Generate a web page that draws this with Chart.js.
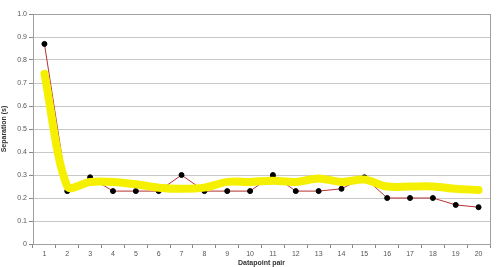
<!DOCTYPE html>
<html>
<head>
<meta charset="utf-8">
<script src="https://cdn.jsdelivr.net/npm/chart.js@4"></script>
<style>
  html, body { margin: 0; padding: 0; background: #fff; }
  #wrap { width: 500px; height: 267px; }
</style>
</head>
<body>
<div id="wrap"><canvas id="grafico"></canvas></div>
<script>
const pares = ["1","2","3","4","5","6","7","8","9","10","11","12","13","14","15","16","17","18","19","20"];
const separacao = [0.87, 0.23, 0.29, 0.23, 0.23, 0.23, 0.30, 0.23, 0.23, 0.23, 0.30, 0.23, 0.23, 0.24, 0.29, 0.20, 0.20, 0.20, 0.17, 0.16];
// linha amarela desenhada a mao por cima
const destaque = [0.74, 0.25, 0.27, 0.27, 0.26, 0.245, 0.24, 0.245, 0.27, 0.27, 0.275, 0.27, 0.285, 0.27, 0.28, 0.25, 0.25, 0.25, 0.24, 0.235];
const ticksY = [0, 0.1, 0.2, 0.3, 0.4, 0.5, 0.6, 0.7, 0.8, 0.9, 1];

const borda = {
    id: "borda",
    afterDraw(chart) {
        const a = chart.chartArea;
        const ctx = chart.ctx;
        ctx.save();
        ctx.strokeStyle = "#a0a0a0";
        ctx.lineWidth = 1;
        ctx.strokeRect(a.left + 0.5, a.top + 0.5, a.right - a.left, a.bottom - a.top);
        ctx.restore();
    }
};

new Chart(document.getElementById("grafico"), {
    type: "line",
    data: {
        labels: pares,
        datasets: [{
            label: "Destaque",
            data: destaque,
            borderColor: "#f5f000",
            borderWidth: 8,
            pointRadius: 0,
            tension: 0.3,
            borderCapStyle: "round",
            borderJoinStyle: "round",
            order: 0
        }, {
            label: "Separation",
            data: separacao,
            borderColor: "#b83030",
            borderWidth: 1,
            pointRadius: 2.5,
            pointBackgroundColor: "#000",
            pointBorderColor: "#000",
            tension: 0,
            order: 1
        }]
    },
    options: {
        responsive: true,
        maintainAspectRatio: false,
        animation: false,
        layout: { padding: { top: 14, right: 10, left: 0, bottom: 0 } },
        plugins: { legend: { display: false }, tooltip: { enabled: false } },
        scales: {
            x: {
                offset: true,
                grid: { display: true, drawOnChartArea: false, offset: true, color: "#888", tickLength: 4 },
                border: { color: "#888" },
                ticks: { color: "#555", font: { family: "Arial", size: 7 }, padding: 2, maxRotation: 0 },
                title: { display: true, text: "Datapoint pair", color: "#333", font: { family: "Arial", size: 7, weight: "bold" }, padding: { top: 2, bottom: 0 } },
                afterFit(scale) { scale.height = 23; }
            },
            y: {
                min: 0,
                max: 1,
                afterBuildTicks(scale) { scale.ticks = ticksY.map(v => ({ value: v })); },
                grid: { color: "#c8c8c8", tickLength: 4, tickColor: "#888" },
                border: { color: "#888" },
                ticks: { color: "#555", font: { family: "Arial", size: 7 }, padding: 2 },
                title: { display: true, text: "Separation (s)", color: "#333", font: { family: "Arial", size: 7, weight: "bold" }, padding: 0 },
                afterFit(scale) { scale.width = 33; }
            }
        }
    },
    plugins: [borda]
});
</script>
</body>
</html>
